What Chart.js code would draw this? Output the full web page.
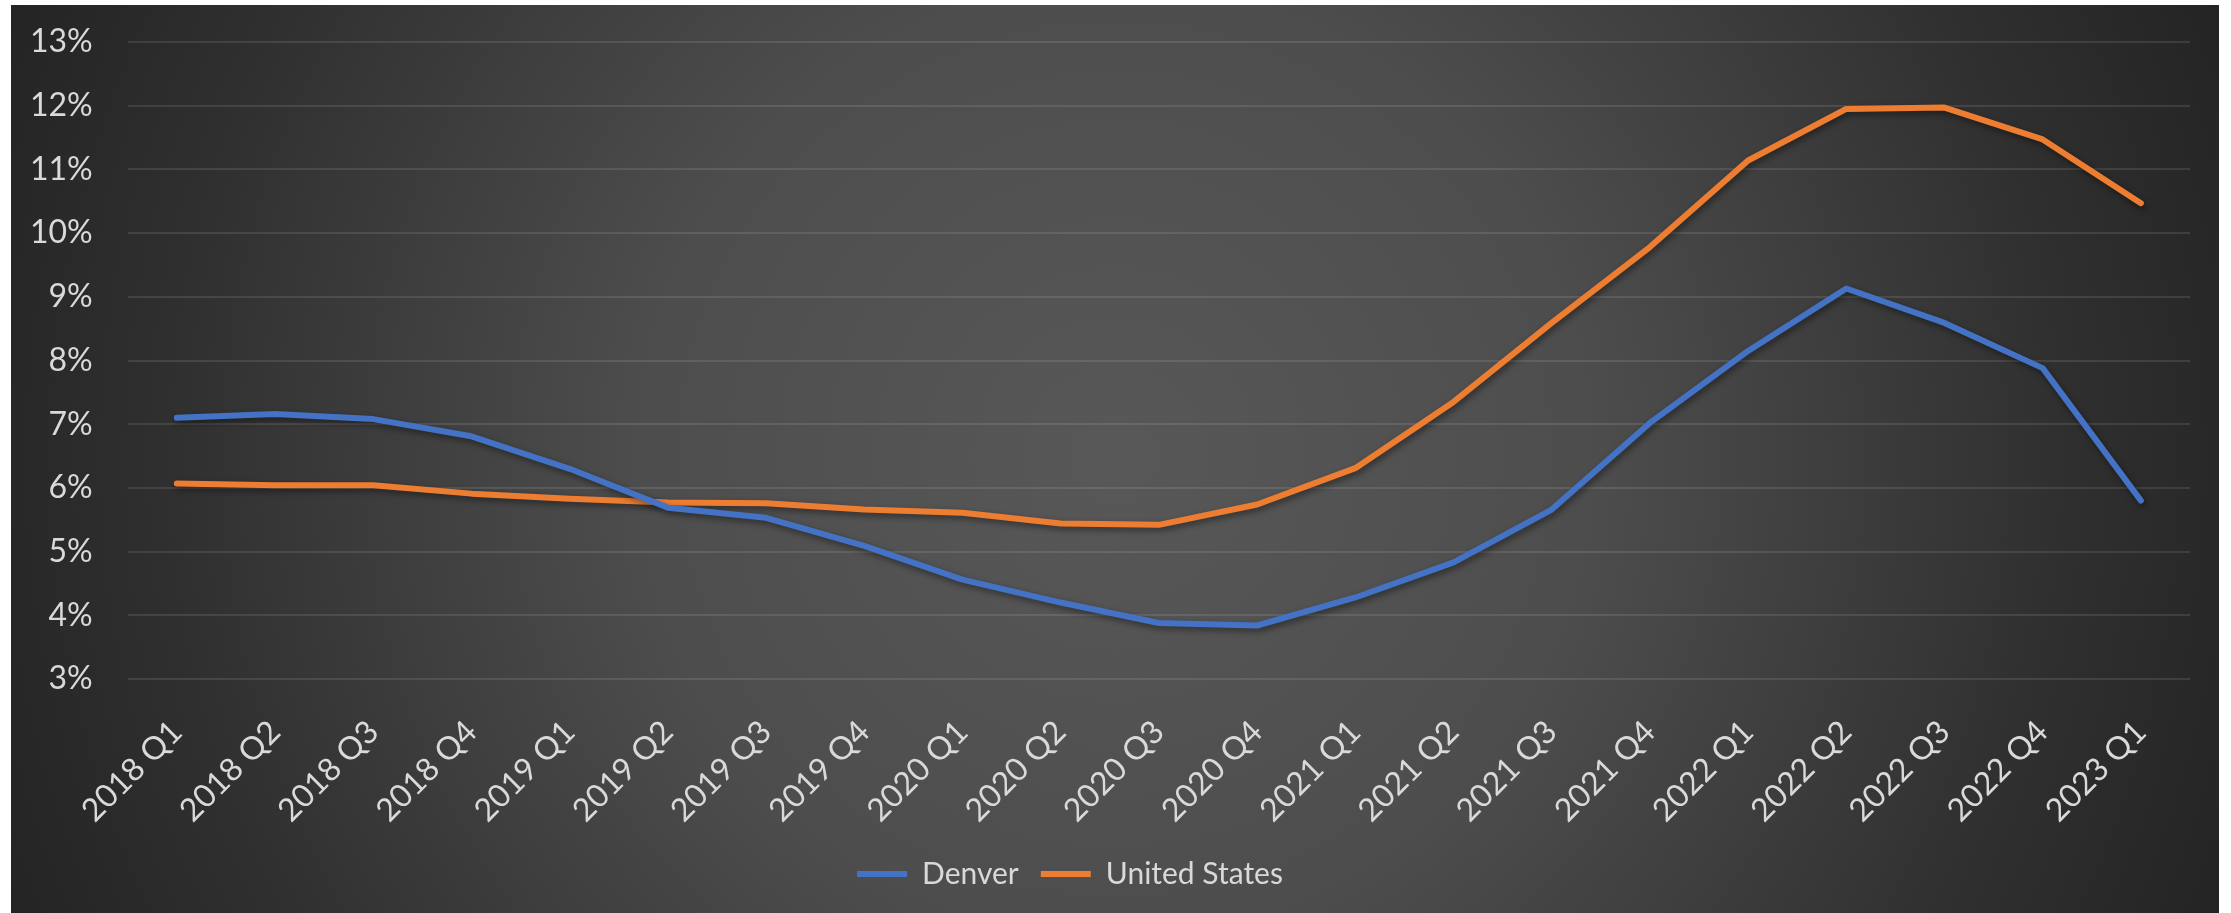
<!DOCTYPE html>
<html>
<head>
<meta charset="utf-8">
<script src="https://cdn.jsdelivr.net/npm/chart.js@4"></script>
<style>
  html, body { margin: 0; padding: 0; background: #ffffff; }
  #wrap { position: absolute; left: 11px; top: 5px; width: 2208px; height: 908px; }
</style>
</head>
<body>
<div id="wrap"><canvas id="rentChart"></canvas></div>
<script>
const quarters = ['2018 Q1', '2018 Q2', '2018 Q3', '2018 Q4', '2019 Q1', '2019 Q2', '2019 Q3', '2019 Q4',
  '2020 Q1', '2020 Q2', '2020 Q3', '2020 Q4', '2021 Q1', '2021 Q2', '2021 Q3', '2021 Q4',
  '2022 Q1', '2022 Q2', '2022 Q3', '2022 Q4', '2023 Q1'];
const denver = [7.10, 7.16, 7.08, 6.81, 6.30, 5.69, 5.53, 5.09, 4.56, 4.20, 3.88, 3.84,
  4.28, 4.83, 5.66, 7.02, 8.15, 9.13, 8.59, 7.88, 5.80];
const unitedStates = [6.07, 6.04, 6.04, 5.91, 5.83, 5.77, 5.76, 5.66, 5.61, 5.44, 5.42, 5.74,
  6.31, 7.35, 8.59, 9.78, 11.14, 11.95, 11.97, 11.47, 10.47];
const yMin = 3;
const yMax = 13;

const textColor = '#d9d9d9';
const fontFamily = 'Lato, "Open Sans", sans-serif';

// fondo con degradado radial
const backdrop = {
  id: 'backdrop',
  beforeDraw(chart) {
    const {ctx, width, height} = chart;
    const cx = width / 2, cy = height / 2;
    const g = ctx.createRadialGradient(cx, cy, 0, cx, cy, Math.hypot(cx, cy));
    g.addColorStop(0, '#585858');
    g.addColorStop(0.4, '#4d4d4d');
    g.addColorStop(0.8, '#2f2f2f');
    g.addColorStop(1, '#242424');
    ctx.save();
    ctx.fillStyle = g;
    ctx.fillRect(0, 0, width, height);
    ctx.restore();
  }
};

// sombra suave bajo las lineas
const lineShadow = {
  id: 'lineShadow',
  beforeDatasetDraw(chart) {
    const c = chart.ctx;
    c.save();
    c.shadowColor = 'rgba(0, 0, 0, 0.45)';
    c.shadowBlur = 6;
    c.shadowOffsetX = 2;
    c.shadowOffsetY = 3;
  },
  afterDatasetDraw(chart) {
    chart.ctx.restore();
  }
};

// la leyenda va un poco a la izquierda del centro
const legendShift = {
  id: 'legendShift',
  afterLayout(chart) {
    chart.legend.left -= 40;
    chart.legend.right -= 40;
  }
};

const ctx = document.getElementById('rentChart').getContext('2d');
const rentChart = new Chart(ctx, {
  type: 'line',
  data: {
    labels: quarters,
    datasets: [{
      label: 'Denver',
      data: denver,
      borderColor: '#4472C4',
      backgroundColor: '#4472C4',
      borderWidth: 6,
      borderCapStyle: 'round',
      borderJoinStyle: 'round',
      pointRadius: 0,
      tension: 0
    }, {
      label: 'United States',
      data: unitedStates,
      borderColor: '#ED7D31',
      backgroundColor: '#ED7D31',
      borderWidth: 6,
      borderCapStyle: 'round',
      borderJoinStyle: 'round',
      pointRadius: 0,
      tension: 0
    }]
  },
  options: {
    responsive: true,
    maintainAspectRatio: false,
    animation: false,
    layout: {
      padding: { left: 19, right: 29, top: 37, bottom: 14 }
    },
    plugins: {
      tooltip: { enabled: false },
      legend: {
        position: 'bottom',
        labels: {
          color: textColor,
          font: { family: fontFamily, size: 30 },
          usePointStyle: true,
          pointStyle: 'line',
          pointStyleWidth: 50,
          padding: 22
        }
      }
    },
    scales: {
      x: {
        offset: true,
        grid: { display: true, drawOnChartArea: false, drawTicks: true, tickLength: 34, tickColor: 'transparent' },
        border: { display: false },
        ticks: {
          color: textColor,
          font: { family: fontFamily, size: 32 },
          maxRotation: 45,
          minRotation: 45,
          padding: 0,
          autoSkip: false
        },
        afterFit(scale) { scale.height = 158; }
      },
      y: {
        min: yMin,
        max: yMax,
        grid: { color: 'rgba(255, 255, 255, 0.1)', lineWidth: 2, drawTicks: true, tickLength: 35, tickColor: 'transparent' },
        border: { display: false },
        ticks: {
          stepSize: 1,
          color: textColor,
          font: { family: fontFamily, size: 32 },
          padding: 0,
          callback: function(v) { return v + '%'; }
        }
      }
    }
  },
  plugins: [backdrop, lineShadow, legendShift]
});
</script>
</body>
</html>
